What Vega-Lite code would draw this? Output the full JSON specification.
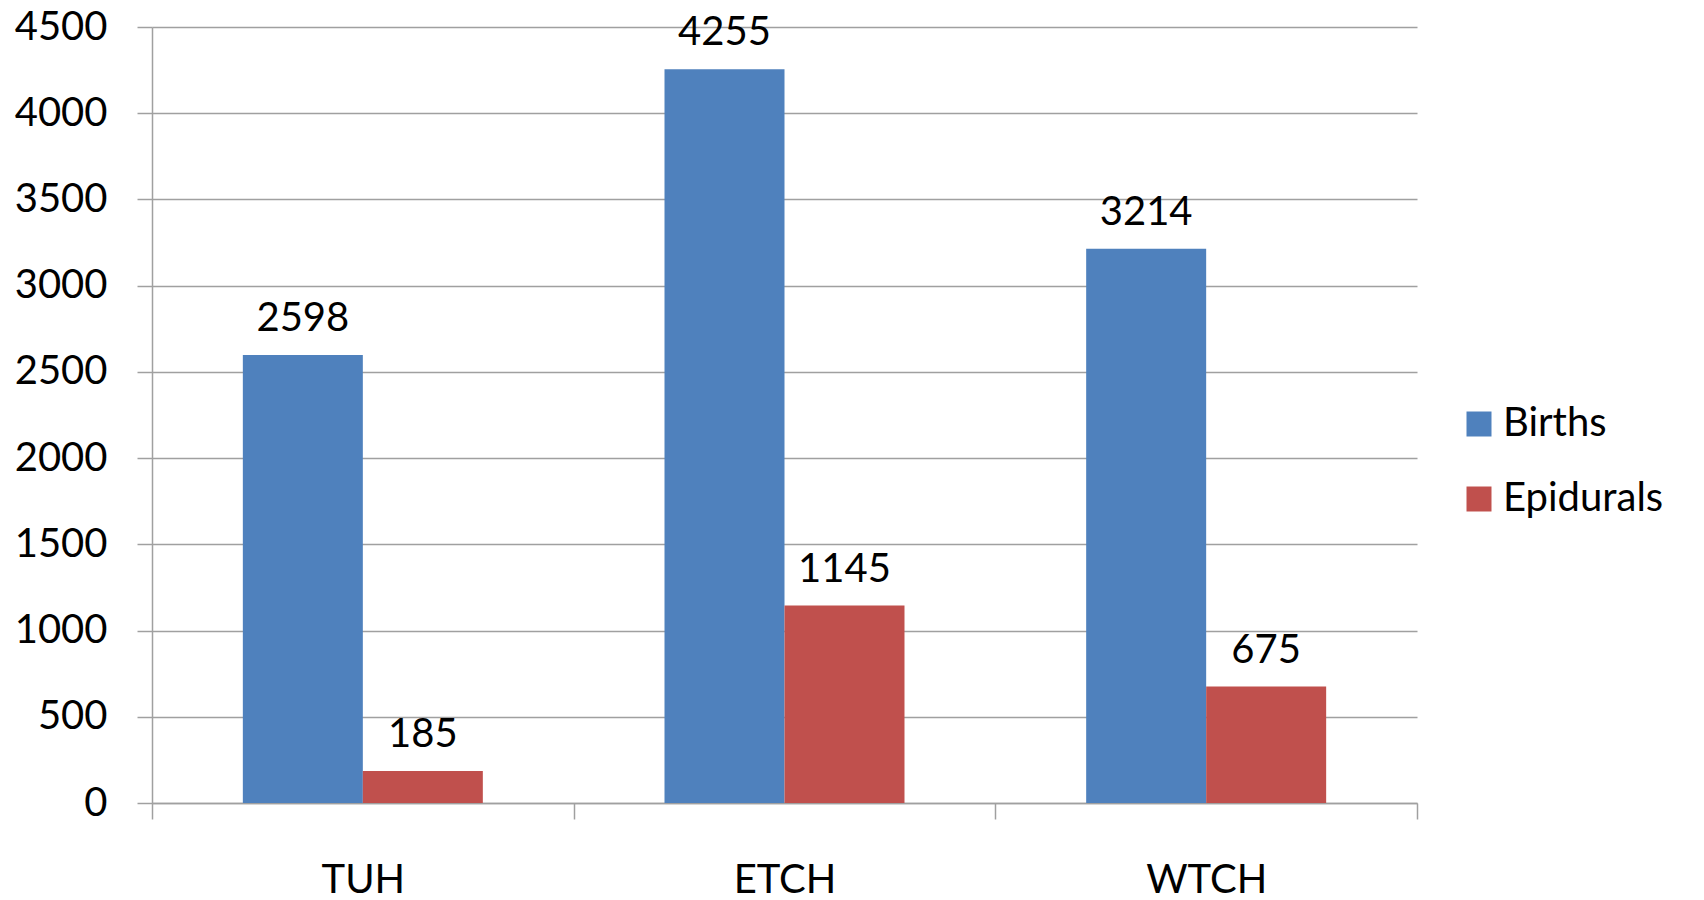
{
  "$schema": "https://vega.github.io/schema/vega-lite/v6.json",
  "width": 1265,
  "height": 776,
  "autosize": "none",
  "padding": {"left": 152, "top": 27, "right": 287, "bottom": 97},
  "background": "white",
  "config": {
    "view": {"stroke": null},
    "font": "Lato",
    "axis": {"labelFont": "Lato", "labelColor": "#000000", "labelFontSize": 40}
  },
  "data": {
    "values": [
      {"hospital": "TUH", "series": "Births", "value": 2598},
      {"hospital": "TUH", "series": "Epidurals", "value": 185},
      {"hospital": "ETCH", "series": "Births", "value": 4255},
      {"hospital": "ETCH", "series": "Epidurals", "value": 1145},
      {"hospital": "WTCH", "series": "Births", "value": 3214},
      {"hospital": "WTCH", "series": "Epidurals", "value": 675}
    ]
  },
  "encoding": {
    "x": {
      "field": "hospital",
      "type": "nominal",
      "sort": ["TUH", "ETCH", "WTCH"],
      "scale": {"paddingInner": 0, "paddingOuter": 0},
      "axis": {
        "title": null,
        "labelAngle": 0,
        "tickBand": "extent",
        "tickSize": 16,
        "tickColor": "#A0A0A0",
        "tickWidth": 1.5,
        "domainColor": "#A0A0A0",
        "domainWidth": 1.5,
        "grid": false,
        "labelPadding": 41,
        "labelFontSize": 40
      }
    },
    "xOffset": {
      "field": "series",
      "type": "nominal",
      "sort": ["Births", "Epidurals"],
      "scale": {"paddingInner": 0, "paddingOuter": 0.757}
    },
    "y": {
      "field": "value",
      "type": "quantitative",
      "scale": {"domain": [0, 4500], "nice": false},
      "axis": {
        "title": null,
        "format": "d",
        "values": [0, 500, 1000, 1500, 2000, 2500, 3000, 3500, 4000, 4500],
        "grid": true,
        "gridColor": "#A0A0A0",
        "gridWidth": 1.5,
        "tickSize": 15,
        "tickColor": "#A0A0A0",
        "tickWidth": 1.5,
        "domainColor": "#A0A0A0",
        "domainWidth": 1.5,
        "labelPadding": 30,
        "labelFontSize": 40
      }
    }
  },
  "layer": [
    {
      "mark": {"type": "bar"},
      "encoding": {
        "color": {
          "field": "series",
          "type": "nominal",
          "sort": ["Births", "Epidurals"],
          "scale": {"domain": ["Births", "Epidurals"], "range": ["#4F81BD", "#C0504D"]},
          "legend": {
            "title": null,
            "orient": "none",
            "legendX": 1307,
            "legendY": 377,
            "padding": 0,
            "symbolType": "square",
            "symbolSize": 625,
            "symbolStrokeWidth": 0,
            "symbolOpacity": 1,
            "labelFont": "Lato",
            "labelFontSize": 40,
            "labelColor": "#000000",
            "labelOffset": 4,
            "labelLimit": 0,
            "rowPadding": 35
          }
        }
      }
    },
    {
      "mark": {"type": "text", "baseline": "alphabetic", "dy": -24, "fontSize": 40, "font": "Lato", "color": "#000000"},
      "encoding": {
        "text": {"field": "value", "type": "quantitative", "format": "d"}
      }
    }
  ]
}
